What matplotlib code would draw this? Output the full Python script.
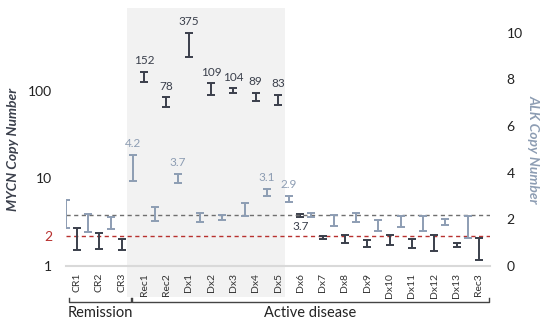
import matplotlib.pyplot as plt
import numpy as np

plt.rcParams["font.family"] = ["Lato", "DejaVu Sans"]

# categories (samples)
categories = ["CR1", "CR2", "CR3", "Rec1", "Rec2", "Dx1", "Dx2", "Dx3", "Dx4", "Dx5",
              "Dx6", "Dx7", "Dx8", "Dx9", "Dx10", "Dx11", "Dx12", "Dx13", "Rec3"]

# MYCN copy number ranges (left, log axis)
mycn_lo = [1.52, 1.56, 1.52, 127, 66, 245, 90, 95, 77, 69,
           3.63, 2.04, 1.83, 1.65, 1.74, 1.61, 1.48, 1.65, 1.17]
mycn_hi = [2.72, 2.38, 2.04, 165, 85, 460, 123, 108, 95, 90,
           3.93, 2.20, 2.26, 1.98, 2.26, 2.04, 2.26, 1.83, 2.09]
mycn_labels = ["", "", "", "152", "78", "375", "109", "104", "89", "83",
               "3.7", "", "", "", "", "", "", "", ""]

# ALK copy number ranges (right, linear axis)
alk_lo = [1.63, 1.46, 1.59, 3.65, 1.93, 3.56, 1.89, 1.97, 2.15, 3.00,
          2.75, 2.10, 1.72, 1.89, 1.50, 1.67, 1.50, 1.76, 1.20]
alk_hi = [2.83, 2.23, 2.10, 4.76, 2.53, 3.95, 2.27, 2.19, 2.70, 3.30,
          3.00, 2.27, 2.19, 2.27, 1.97, 2.15, 2.15, 2.02, 2.15]
alk_labels = ["", "", "", "4.2", "", "3.7", "", "", "", "3.1",
              "2.9", "", "", "", "", "", "", "", ""]

mycn_cutoff = 2.2
alk_cutoff = 2.2

DARK = "#3a3f4b"
ALK_C = "#8d9db3"
RED = "#b8312f"

fig = plt.figure(figsize=(5.5, 3.24), dpi=100)
ax = fig.add_axes([66 / 550, 1 - 266 / 324, 424 / 550, 258 / 324])
ax2 = ax.twinx()

x = np.arange(len(categories))
ax.set_xlim(-0.5, len(categories) - 0.5)

# shaded block behind the high-MYCN samples
ax.axvspan(2.25, 9.32, ymin=-0.12, ymax=1.0, color="#f2f2f2", zorder=0,
           clip_on=False, lw=0)

# MYCN error bars
lo = np.array(mycn_lo)
hi = np.array(mycn_hi)
ax.errorbar(x, lo, yerr=[np.zeros_like(lo), hi - lo], fmt="none", ecolor=DARK,
            elinewidth=1.4, capsize=2.9, capthick=1.4, zorder=3)
ax.set_yscale("log")
ax.set_ylim(1, 10 ** (258 / 87.5))
ax.axhline(mycn_cutoff, color=RED, ls=(0, (3, 2.5)), lw=1.0, zorder=2)
for xi, h, l, lab in zip(x, hi, lo, mycn_labels):
    if not lab:
        continue
    if lab == "3.7":
        ax.annotate(lab, (xi, l), xytext=(0, -3), textcoords="offset points",
                    ha="center", va="top", fontsize=8.5, color=DARK)
    else:
        ax.annotate(lab, (xi, h), xytext=(0, 4), textcoords="offset points",
                    ha="center", va="bottom", fontsize=8.5, color=DARK)

# ALK error bars
alo = np.array(alk_lo)
ahi = np.array(alk_hi)
ax2.errorbar(x - 0.5, alo, yerr=[np.zeros_like(alo), ahi - alo], fmt="none",
             ecolor=ALK_C, elinewidth=1.4, capsize=2.9, capthick=1.4, zorder=3)
ax2.set_ylim(0, 258 / 23.35)
ax2.axhline(alk_cutoff, color="#6f6f6f", ls=(0, (3, 2.5)), lw=1.0, zorder=2)
for xi, h, lab in zip(x - 0.5, ahi, alk_labels):
    if lab:
        ax2.annotate(lab, (xi, h), xytext=(0, 4), textcoords="offset points",
                     ha="center", va="bottom", fontsize=8.5, color=ALK_C)

# axes styling
for a in (ax, ax2):
    for s in ("top", "left", "right", "bottom"):
        a.spines[s].set_visible(False)
ax.spines["bottom"].set_visible(True)
ax.spines["bottom"].set_color("#d9d9d9")
ax.spines["bottom"].set_linewidth(1.5)

ax.set_yticks([1, mycn_cutoff, 10, 100])
ax.set_yticklabels(["1", "2", "10", "100"])
ax.yaxis.set_minor_locator(plt.NullLocator())
ax.tick_params(axis="y", length=0, pad=10, labelsize=10, labelcolor="#222222")
ax.get_yticklabels()[1].set_color(RED)

ax2.set_yticks([0, 2, 4, 6, 8, 10])
ax2.tick_params(axis="y", length=0, pad=12, labelsize=10, labelcolor="#222222")

ax.set_xticks(x)
ax.set_xticklabels(categories, rotation=90, fontsize=7.5, color="#333333")
ax.tick_params(axis="x", length=0, pad=5)

fig.text(13 / 550, 1 - 149 / 324, "MYCN Copy Number", rotation=90, ha="center",
         va="center", fontsize=10, fontweight="bold", fontstyle="italic", color=DARK)
fig.text(534 / 550, 1 - 149 / 324, "ALK Copy Number", rotation=-90, ha="center",
         va="center", fontsize=10, fontweight="bold", fontstyle="italic", color=ALK_C)

# group brackets under the tick labels
brackets = [(-0.37, 2.41, "Remission"), (2.46, 18.45, "Active disease")]
ybr = -(302 - 266) / 258
ytip = -(298 - 266) / 258
for x0, x1, name in brackets:
    ax.plot([x0, x0, x1, x1], [ytip, ybr, ybr, ytip], color="#444444", lw=1.0,
            transform=ax.get_xaxis_transform(), clip_on=False)
    ax.text((x0 + x1) / 2, -(313 - 266) / 258, name, ha="center", va="center",
            fontsize=10.5, color="#222222", transform=ax.get_xaxis_transform())

fig.savefig("out.png", dpi=100)
